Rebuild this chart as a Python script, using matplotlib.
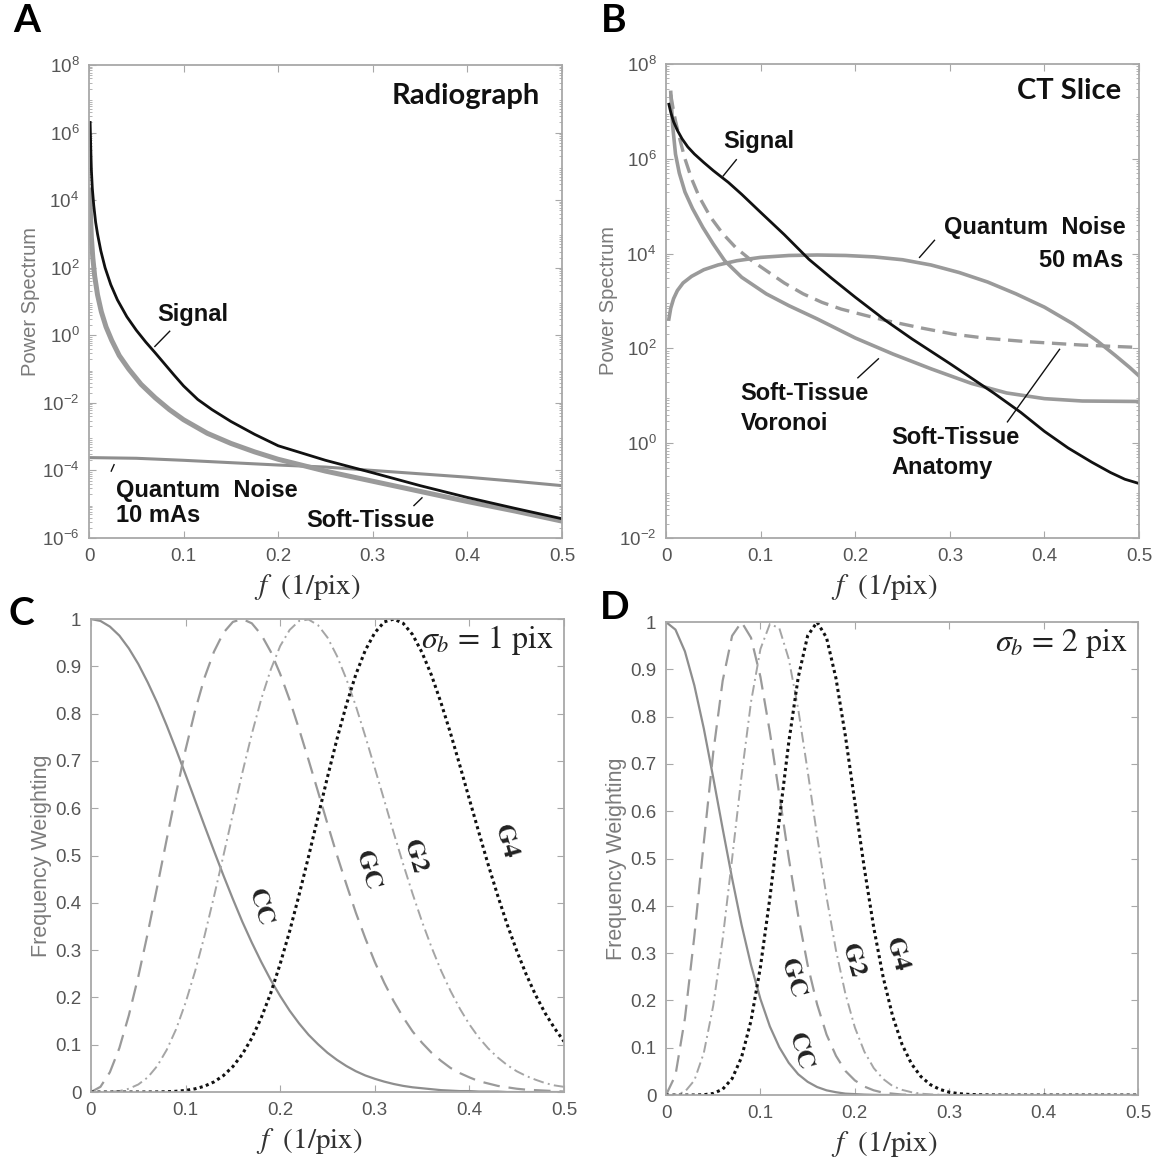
import numpy as np
import matplotlib.pyplot as plt
from matplotlib.ticker import LogLocator, NullFormatter, FixedLocator

plt.rcParams['font.family'] = ['Liberation Sans', 'DejaVu Sans']
plt.rcParams['mathtext.fontset'] = 'custom'
plt.rcParams['mathtext.rm'] = 'Liberation Sans'
plt.rcParams['mathtext.default'] = 'regular'

# ---- Panel A: radiograph power spectra (log10 values) ----
sig_a_f = [0.0012, 0.0018, 0.0025, 0.0035, 0.005, 0.007, 0.009, 0.0125, 0.017, 0.023, 0.03,
           0.04, 0.05, 0.06, 0.07, 0.08, 0.09, 0.1, 0.115, 0.13, 0.15, 0.175, 0.2, 0.25,
           0.3, 0.35, 0.4, 0.45, 0.5]
sig_a_log = [6.3, 5.6, 4.9, 4.35, 3.85, 3.35, 3.0, 2.5, 2.0, 1.5, 1.05,
             0.55, 0.15, -0.2, -0.52, -0.85, -1.18, -1.5, -1.9, -2.2, -2.55, -2.93, -3.27, -3.7,
             -4.07, -4.45, -4.8, -5.12, -5.43]
st_a_f = [0.0008, 0.0015, 0.0025, 0.004, 0.006, 0.009, 0.013, 0.018, 0.024, 0.032, 0.042,
          0.055, 0.07, 0.085, 0.1, 0.125, 0.15, 0.175, 0.2, 0.25, 0.3, 0.35, 0.4, 0.45, 0.5]
st_a_log = [4.3, 3.6, 2.9, 2.3, 1.75, 1.2, 0.7, 0.25, -0.15, -0.6, -1.0,
            -1.45, -1.85, -2.2, -2.5, -2.9, -3.2, -3.45, -3.67, -4.02, -4.32, -4.62, -4.92, -5.2, -5.5]
qn_a_f = [0.0, 0.05, 0.1, 0.15, 0.2, 0.25, 0.3, 0.35, 0.4, 0.45, 0.5]
qn_a_log = [-3.62, -3.64, -3.70, -3.77, -3.84, -3.90, -4.0, -4.10, -4.2, -4.32, -4.45]

# ---- Panel B: CT slice power spectra (log10 values) ----
sig_b_f = [0.003, 0.005, 0.008, 0.012, 0.017, 0.023, 0.03, 0.04, 0.05, 0.066, 0.08, 0.1,
           0.125, 0.151, 0.175, 0.2, 0.232, 0.26, 0.3, 0.347, 0.375, 0.4, 0.425, 0.45,
           0.47, 0.485, 0.5]
sig_b_log = [7.15, 6.98, 6.78, 6.6, 6.42, 6.25, 6.1, 5.92, 5.75, 5.5, 5.25, 4.87,
             4.4, 3.88, 3.48, 3.08, 2.59, 2.2, 1.68, 1.05, 0.65, 0.25, -0.1, -0.4,
             -0.62, -0.76, -0.85]
qn_b_f = [0.003, 0.005, 0.008, 0.012, 0.018, 0.027, 0.04, 0.055, 0.075, 0.1, 0.13, 0.16,
          0.19, 0.22, 0.25, 0.28, 0.31, 0.34, 0.37, 0.4, 0.43, 0.455, 0.475, 0.49, 0.5]
qn_b_log = [2.62, 2.85, 3.05, 3.22, 3.38, 3.52, 3.66, 3.76, 3.85, 3.92, 3.96, 3.97,
            3.96, 3.93, 3.87, 3.76, 3.6, 3.4, 3.15, 2.87, 2.52, 2.17, 1.85, 1.6, 1.42]
an_b_f = [0.005, 0.008, 0.01, 0.015, 0.02, 0.027, 0.035, 0.047, 0.06, 0.074, 0.09, 0.106,
          0.125, 0.145, 0.165, 0.185, 0.21, 0.232, 0.27, 0.304, 0.34, 0.383, 0.44, 0.5]
an_b_log = [7.35, 7.0, 6.8, 6.38, 6.0, 5.58, 5.2, 4.77, 4.42, 4.12, 3.86, 3.64,
            3.38, 3.15, 2.97, 2.83, 2.7, 2.59, 2.43, 2.3, 2.21, 2.14, 2.07, 2.02]
vo_b_f = [0.005, 0.007, 0.01, 0.014, 0.02, 0.028, 0.039, 0.05, 0.062, 0.08, 0.106, 0.13,
          0.16, 0.2, 0.24, 0.28, 0.323, 0.36, 0.4, 0.44, 0.5]
vo_b_log = [7.4, 6.7, 6.1, 5.7, 5.3, 4.95, 4.55, 4.2, 3.85, 3.5, 3.15, 2.9,
            2.62, 2.22, 1.88, 1.57, 1.26, 1.06, 0.94, 0.89, 0.88]

# ---- Panel C: frequency weightings, sigma_b = 1 pix ----
f_c = [i / 100 for i in range(51)]
cc_c = [1.000, 0.996, 0.984, 0.965, 0.938, 0.905, 0.866, 0.823, 0.775, 0.724,
        0.671, 0.617, 0.563, 0.510, 0.458, 0.408, 0.360, 0.316, 0.275, 0.237,
        0.203, 0.172, 0.145, 0.121, 0.101, 0.083, 0.068, 0.055, 0.044, 0.035,
        0.028, 0.022, 0.017, 0.013, 0.010, 0.008, 0.006, 0.004, 0.003, 0.002,
        0.002, 0.001, 0.001, 0.001, 0.000, 0.000, 0.000, 0.000, 0.000, 0.000, 0.000]
gc_c = [0.0, 0.011, 0.042, 0.093, 0.162, 0.244, 0.336, 0.434, 0.534, 0.632,
        0.724, 0.806, 0.876, 0.931, 0.971, 0.994, 1.000, 0.991, 0.967, 0.931,
        0.884, 0.829, 0.767, 0.702, 0.635, 0.567, 0.501, 0.439, 0.379, 0.325,
        0.275, 0.231, 0.192, 0.158, 0.128, 0.104, 0.083, 0.066, 0.051, 0.040,
        0.031, 0.023, 0.018, 0.013, 0.010, 0.007, 0.005, 0.004, 0.003, 0.002, 0.001]
g2_c = [0.0, 0.0, 0.0004, 0.002, 0.007, 0.016, 0.031, 0.055, 0.089, 0.133,
        0.189, 0.255, 0.330, 0.413, 0.500, 0.588, 0.675, 0.757, 0.831, 0.893,
        0.943, 0.977, 0.996, 0.999, 0.987, 0.961, 0.922, 0.873, 0.816, 0.752,
        0.685, 0.617, 0.548, 0.482, 0.419, 0.360, 0.306, 0.257, 0.214, 0.176,
        0.143, 0.115, 0.092, 0.073, 0.057, 0.044, 0.034, 0.026, 0.019, 0.014, 0.011]
g4_c = [0.0, 0.0, 0.0, 0.0, 0.0, 0.0, 0.0001, 0.0002, 0.0007, 0.0016,
        0.0034, 0.0068, 0.0124, 0.0214, 0.0348, 0.0539, 0.080, 0.114, 0.157, 0.209,
        0.271, 0.340, 0.417, 0.498, 0.582, 0.666, 0.746, 0.819, 0.883, 0.934,
        0.971, 0.994, 1.000, 0.991, 0.967, 0.929, 0.881, 0.823, 0.759, 0.690,
        0.619, 0.549, 0.480, 0.415, 0.354, 0.299, 0.249, 0.205, 0.167, 0.135, 0.107]

# ---- Panel D: frequency weightings, sigma_b = 2 pix ----
f_d = [i / 100 for i in range(36)] + [0.4, 0.45, 0.5]
cc_d = [1.000, 0.984, 0.938, 0.866, 0.775, 0.671, 0.563, 0.458, 0.360, 0.275,
        0.203, 0.145, 0.101, 0.068, 0.044, 0.028, 0.017, 0.010, 0.006, 0.003,
        0.002, 0.001, 0.0004, 0.0002, 0.0001, 0.0, 0.0, 0.0, 0.0, 0.0,
        0.0, 0.0, 0.0, 0.0, 0.0, 0.0, 0.0, 0.0, 0.0]
gc_d = [0.0, 0.042, 0.162, 0.336, 0.534, 0.724, 0.876, 0.971, 1.000, 0.967,
        0.884, 0.767, 0.635, 0.501, 0.379, 0.275, 0.192, 0.128, 0.083, 0.051,
        0.031, 0.018, 0.010, 0.005, 0.003, 0.001, 0.0007, 0.0003, 0.0001, 0.0,
        0.0, 0.0, 0.0, 0.0, 0.0, 0.0, 0.0, 0.0, 0.0]
g2_d = [0.0, 0.0004, 0.007, 0.031, 0.089, 0.189, 0.330, 0.500, 0.675, 0.831,
        0.943, 0.996, 0.987, 0.922, 0.816, 0.685, 0.548, 0.419, 0.306, 0.214,
        0.143, 0.092, 0.057, 0.034, 0.019, 0.011, 0.006, 0.003, 0.0014, 0.0007,
        0.0003, 0.0, 0.0, 0.0, 0.0, 0.0, 0.0, 0.0, 0.0]
g4_d = [0.0, 0.0, 0.0, 0.0001, 0.0007, 0.0034, 0.0124, 0.0348, 0.080, 0.157,
        0.271, 0.417, 0.582, 0.746, 0.883, 0.971, 1.000, 0.967, 0.881, 0.759,
        0.619, 0.480, 0.354, 0.249, 0.167, 0.107, 0.066, 0.039, 0.022, 0.012,
        0.006, 0.003, 0.0015, 0.0007, 0.0003, 0.0001, 0.0, 0.0, 0.0]

TICK = '#555555'
EDGE = '#a8a8a8'
GRAY = '#9a9a9a'
SERIF = dict(family='STIXGeneral', math_fontfamily='stix')


def style(ax):
    for s in ax.spines.values():
        s.set_color(EDGE)
        s.set_linewidth(1.3)
    ax.tick_params(which='both', direction='in', top=True, right=True,
                   color=EDGE, labelcolor=TICK, labelsize=13.5)
    ax.tick_params(which='major', length=5, pad=7)
    ax.tick_params(which='minor', length=2.5)
    ax.set_xlim(0, 0.5)
    ax.set_xticks([0, 0.1, 0.2, 0.3, 0.4, 0.5])
    ax.set_xticklabels(['0', '0.1', '0.2', '0.3', '0.4', '0.5'])
    ax.set_xlabel(r'$\mathit{f}$  (1/pix)', fontsize=21, color='#333333', labelpad=3, **SERIF)
    ax.xaxis.set_label_coords(0.462, -0.072)


def logstyle(ax, lo, hi):
    ax.set_yscale('log')
    ax.set_ylim(10.0 ** lo, 10.0 ** hi)
    ax.yaxis.set_major_locator(FixedLocator([10.0 ** k for k in range(lo, hi + 1, 2)]))
    ax.set_yticklabels(['$10^{%d}$' % k for k in range(lo, hi + 1, 2)])
    ax.yaxis.set_minor_locator(LogLocator(base=10, subs=np.arange(2, 10), numticks=50))
    ax.yaxis.set_minor_formatter(NullFormatter())
    ax.set_ylabel('Power Spectrum', fontsize=14.5, color='#7a7a7a', labelpad=1)


def linstyle(ax):
    ax.set_ylim(0, 1)
    ax.set_yticks([i / 10 for i in range(11)])
    ax.set_yticklabels(['0'] + ['%.1f' % (i / 10) for i in range(1, 10)] + ['1'])
    ax.set_ylabel('Frequency Weighting', fontsize=15.5, color='#7a7a7a', labelpad=2)


fig = plt.figure(figsize=(11.65, 11.61), dpi=100)
axA = fig.add_axes([0.0764, 0.5366, 0.4060, 0.4074])
axB = fig.add_axes([0.5717, 0.5366, 0.4060, 0.4083])
axC = fig.add_axes([0.0781, 0.0594, 0.4060, 0.4074])
axD = fig.add_axes([0.5717, 0.0568, 0.4052, 0.4074])

bold = dict(fontsize=17, fontweight='bold', color='#111111')

# Panel A
ax = axA
style(ax)
logstyle(ax, -6, 8)
ax.plot(qn_a_f, 10.0 ** np.array(qn_a_log), color='#8e8e8e', lw=2.2)
ax.plot(st_a_f, 10.0 ** np.array(st_a_log), color=GRAY, lw=3.6, solid_joinstyle='round')
ax.plot(sig_a_f, 10.0 ** np.array(sig_a_log), color='#111111', lw=2.0, solid_joinstyle='round')
ax.text(0.477, 10 ** 7.09, 'Radiograph', ha='right', va='center', fontsize=21,
        fontweight='bold', family='Lato', color='#111111')
ax.text(0.072, 10 ** 0.63, 'Signal', ha='left', va='center', **bold)
ax.plot([0.0853, 0.0696], [10 ** 0.12, 10 ** -0.33], color='#111111', lw=1)
ax.text(0.0286, 10 ** -4.58, 'Quantum  Noise', ha='left', va='center', **bold)
ax.text(0.0286, 10 ** -5.32, '10 mAs', ha='left', va='center', **bold)
ax.plot([0.0235, 0.0265], [10 ** -4.02, 10 ** -3.83], color='#111111', lw=1)
ax.text(0.230, 10 ** -5.49, 'Soft-Tissue', ha='left', va='center', **bold)
ax.plot([0.3435, 0.352], [10 ** -5.04, 10 ** -4.81], color='#111111', lw=1)

# Panel B
ax = axB
style(ax)
logstyle(ax, -2, 8)
ax.plot(qn_b_f, 10.0 ** np.array(qn_b_log), color=GRAY, lw=2.6, solid_joinstyle='round')
ax.plot(vo_b_f, 10.0 ** np.array(vo_b_log), color=GRAY, lw=2.6, solid_joinstyle='round')
ax.plot(an_b_f, 10.0 ** np.array(an_b_log), color=GRAY, lw=2.4, ls=(0, (4.3, 2.3)))
ax.plot(sig_b_f, 10.0 ** np.array(sig_b_log), color='#111111', lw=2.0, solid_joinstyle='round')
ax.text(0.481, 10 ** 7.43, 'CT Slice', ha='right', va='center', fontsize=21,
        fontweight='bold', family='Lato', color='#111111')
ax.text(0.0605, 10 ** 6.37, 'Signal', ha='left', va='center', **bold)
ax.plot([0.0743, 0.0605], [10 ** 5.98, 10 ** 5.64], color='#111111', lw=1)
ax.text(0.486, 10 ** 4.54, 'Quantum  Noise', ha='right', va='center', **bold)
ax.text(0.483, 10 ** 3.86, '50 mAs', ha='right', va='center', **bold)
ax.plot([0.2838, 0.268], [10 ** 4.28, 10 ** 3.92], color='#111111', lw=1)
ax.text(0.079, 10 ** 1.05, 'Soft-Tissue', ha='left', va='center', **bold)
ax.text(0.079, 10 ** 0.41, 'Voronoi', ha='left', va='center', **bold)
ax.plot([0.2245, 0.2028], [10 ** 1.78, 10 ** 1.38], color='#111111', lw=1)
ax.text(0.2383, 10 ** 0.125, 'Soft-Tissue', ha='left', va='center', **bold)
ax.text(0.2383, 10 ** -0.52, 'Anatomy', ha='left', va='center', **bold)
ax.plot([0.416, 0.3609], [10 ** 1.98, 10 ** 0.45], color='#111111', lw=1)


def weights(ax, f, cc, gc, g2, g4, sigma, labels):
    style(ax)
    linstyle(ax)
    ax.plot(f, cc, color='#8e8e8e', lw=1.6)
    ax.plot(f, gc, color='#9a9a9a', lw=1.6, ls=(0, (7.5, 4)))
    ax.plot(f, g2, color='#a5a5a5', lw=1.4, ls=(0, (5.5, 2.2, 1, 2.2)))
    ax.plot(f, g4, color='#111111', lw=2.2, ls=(0, (1, 1.1)))
    ax.text(0.489, 0.955, r'$\mathit{\sigma}_{\mathit{b}}$ = %s pix' % sigma, ha='right',
            va='center', fontsize=23, color='#222222', **SERIF)
    for name, (x, y) in labels.items():
        ax.text(x, y, name, ha='center', va='center', rotation=-74, fontsize=19,
                fontweight='bold', color='#222222', **SERIF)


weights(axC, f_c, cc_c, gc_c, g2_c, g4_c, '1',
        {'CC': (0.178, 0.39), 'GC': (0.2915, 0.468), 'G2': (0.342, 0.498), 'G4': (0.4376, 0.529)})
weights(axD, f_d, cc_d, gc_d, g2_d, g4_d, '2',
        {'CC': (0.1415, 0.0925), 'GC': (0.1336, 0.247), 'G2': (0.197, 0.285), 'G4': (0.244, 0.297)})

for lab, x, y in [('A', 0.023, 0.982), ('B', 0.527, 0.982), ('C', 0.018, 0.472), ('D', 0.528, 0.477)]:
    fig.text(x, y, lab, ha='center', va='center', fontsize=28, fontweight='bold',
             family='Lato', color='#000000')

fig.savefig('out.png', dpi=100)
